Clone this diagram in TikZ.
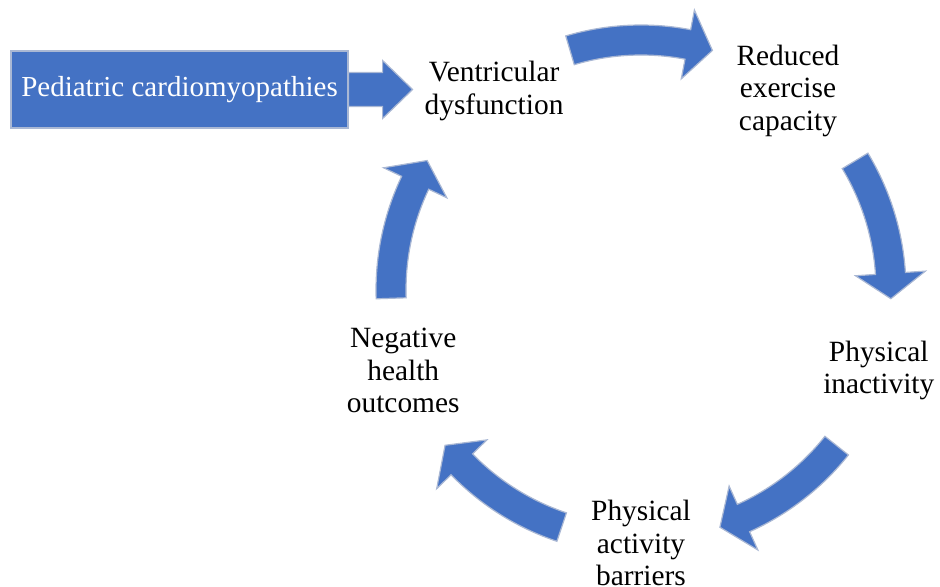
\documentclass[tikz,border=0pt]{standalone}
\usepackage{fontspec}
\setmainfont{Liberation Serif}
\usetikzlibrary{calc}
\definecolor{officeblue}{RGB}{68,114,196}
\definecolor{edgeblue}{RGB}{170,184,212}
\newcommand{\cyclearrow}[1]{%
    \pgfmathsetmacro{\tailAng}{#1+16.5}
    \pgfmathsetmacro{\baseAng}{#1-10.8}
    \pgfmathsetmacro{\tipAng}{#1-16.6}
    \fill[blockarrow] ($(C)+(\tailAng:\Rout)$) arc[start angle=\tailAng, end angle=\baseAng, radius=\Rout]
        -- ($(C)+(\baseAng:\Rhead)$) -- ($(C)+(\tipAng:\R)$) -- ($(C)+(\baseAng:\Rfoot)$)
        -- ($(C)+(\baseAng:\Rin)$) arc[start angle=\baseAng, end angle=\tailAng, radius=\Rin] -- cycle;
}

\begin{document}
\begin{tikzpicture}[x=0.5pt, y=0.5pt,
    cyclelabel/.style={align=center, yshift=-1.6pt, font=\fontsize{14.7}{16.2}\selectfont},
    blockarrow/.style={fill=officeblue, draw=edgeblue, line width=0.6pt},
    causebox/.style={fill=officeblue, draw=edgeblue, line width=0.6pt, text=white,
        minimum width=168.5pt, minimum height=38.5pt, font=\fontsize{14.5}{16.2}\selectfont}]
    \useasboundingbox (0,0) rectangle (940,586);
    \def\R{250}
    \pgfmathsetmacro{\Rout}{\R+15}
    \pgfmathsetmacro{\Rin}{\R-15}
    \pgfmathsetmacro{\Rhead}{\R+35}
    \pgfmathsetmacro{\Rfoot}{\R-35}

    % Centre of the cycle
    \coordinate (C) at (641,296);

    % The cause
    \node[causebox] (pcm) at (179.5,496.5) {Pediatric cardiomyopathies};

    % Stages of the cycle
    \node[cyclelabel] (vent) at ($(C)+(126:\R)$) {Ventricular\\dysfunction};
    \node[cyclelabel] (rec) at ($(C)+(54:\R)$) {Reduced\\exercise\\capacity};
    \node[cyclelabel] (inact) at ($(C)+(-18:\R)$) {Physical\\inactivity};
    \node[cyclelabel] (barr) at ($(C)+(-90:\R)$) {Physical\\activity\\barriers};
    \node[cyclelabel] (neg) at ($(C)+(198:\R)$) {Negative\\health\\outcomes};

    % Straight arrow into the cycle
    \fill[blockarrow] ($(pcm.east)+(0,17)$) -- ++(34,0) -- ++(0,12) -- ($(pcm.east)+(64,0)$)
        -- ($(pcm.east)+(34,-29)$) -- ++(0,12) -- ($(pcm.east)+(0,-17)$) -- cycle;

    % Curved arrows between the stages
    \cyclearrow{90}
    \cyclearrow{14.6}
    \cyclearrow{-55}
    \cyclearrow{-125}
    \cyclearrow{165.4}
\end{tikzpicture}
\end{document}
